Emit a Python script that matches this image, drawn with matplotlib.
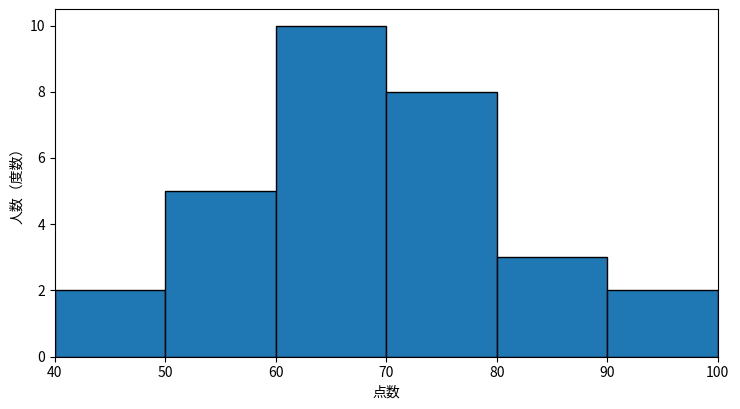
import matplotlib.pyplot as plt

plt.rcParams['font.family'] = ['Noto Sans CJK JP', 'DejaVu Sans']

# Score bins and number of students in each.
bin_edges = [40, 50, 60, 70, 80, 90, 100]
counts = [2, 5, 10, 8, 3, 2]

fig, ax = plt.subplots(figsize=(7.4, 4.09), dpi=100)
ax.hist(bin_edges[:-1], bins=bin_edges, weights=counts,
        color='#1f77b4', edgecolor='black')

ax.set_xlim(40, 100)
ax.set_xlabel("点数")
ax.set_ylabel("人数（度数）")

fig.subplots_adjust(left=0.074, right=0.97, top=0.978, bottom=0.128)
fig.savefig('out.png')
